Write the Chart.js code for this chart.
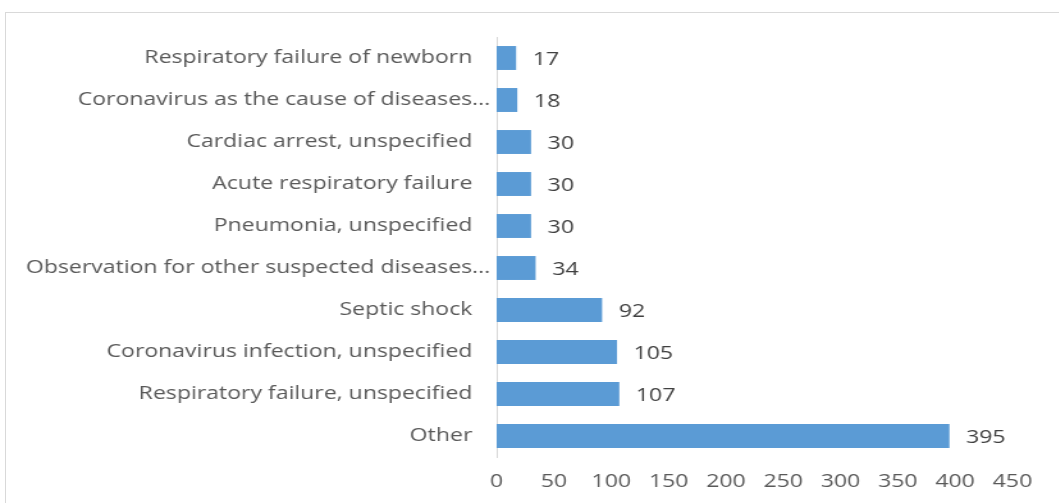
<!DOCTYPE html>
<html>
<head>
<meta charset="utf-8">
<script src="https://cdn.jsdelivr.net/npm/chart.js@4"></script>
<style>
  body { margin: 0; background: #fff; overflow: hidden; }
  #wrap { position: relative; width: 1059px; height: 503px; overflow: hidden; }
  #frame { position: absolute; left: 5px; top: 12px; width: 1100px; height: 600px; border: 1px solid #d9d9d9; }
  /* the source picture is stretched wide, so the chart is drawn narrow and scaled out */
  #stretch { position: absolute; left: 0; top: 0; transform: scaleX(1.28); transform-origin: 0 0; }
</style>
</head>
<body>
<div id="wrap">
  <div id="frame"></div>
  <div id="stretch">
    <canvas id="mycanvas" width="827" height="503"></canvas>
  </div>
</div>
<script>
var causes = [
    "Respiratory failure of newborn",
    "Coronavirus as the cause of diseases...",
    "Cardiac arrest, unspecified",
    "Acute respiratory failure",
    "Pneumonia, unspecified",
    "Observation for other suspected diseases...",
    "Septic shock",
    "Coronavirus infection, unspecified",
    "Respiratory failure, unspecified",
    "Other"
];
var deaths = [17, 18, 30, 30, 30, 34, 92, 105, 107, 395];
var xTicks = [0, 50, 100, 150, 200, 250, 300, 350, 400, 450];

var fontFamily = "'Open Sans', sans-serif";

// draws the value next to each bar
var valueLabels = {
    id: 'valueLabels',
    afterDatasetsDraw: function(chart) {
        var ctx = chart.ctx;
        var meta = chart.getDatasetMeta(0);
        ctx.save();
        ctx.fillStyle = "#404040";
        ctx.font = "18px " + fontFamily;
        ctx.textAlign = "left";
        ctx.textBaseline = "middle";
        meta.data.forEach(function(bar, i) {
            ctx.fillText(String(deaths[i]), bar.x + 13, bar.y + 2);
        });
        ctx.restore();
    }
};

// category labels, truncated ones sit closer to the axis like in Excel
var categoryLabels = {
    id: 'categoryLabels',
    afterDraw: function(chart) {
        var ctx = chart.ctx;
        var yScale = chart.scales.y;
        ctx.save();
        ctx.fillStyle = "#595959";
        ctx.font = "18px " + fontFamily;
        ctx.textAlign = "right";
        ctx.textBaseline = "middle";
        causes.forEach(function(label, i) {
            var gap = label.slice(-3) === "..." ? 5 : 19;
            ctx.fillText(label, yScale.right - gap, yScale.getPixelForValue(i));
        });
        ctx.restore();
    }
};

var ctx = document.getElementById("mycanvas");
var chart = new Chart(ctx, {
    type: 'bar',
    data: {
        labels: causes,
        datasets: [{
            data: deaths,
            backgroundColor: "#5B9BD5",
            borderWidth: 0,
            categoryPercentage: 1,
            barPercentage: 0.57
        }]
    },
    plugins: [valueLabels, categoryLabels],
    options: {
        indexAxis: 'y',
        responsive: false,
        animation: false,
        layout: { padding: { left: 0, right: 36, top: 37, bottom: 0 } },
        plugins: {
            legend: { display: false },
            tooltip: { enabled: false }
        },
        scales: {
            x: {
                min: 0,
                max: 450,
                afterBuildTicks: function(scale) {
                    scale.ticks = xTicks.map(function(v) { return { value: v }; });
                },
                afterFit: function(scale) { scale.height = 46; },
                grid: { display: false, drawTicks: false },
                border: { display: false },
                ticks: {
                    padding: 14,
                    color: "#595959",
                    font: { family: fontFamily, size: 18 }
                }
            },
            y: {
                afterFit: function(scale) { scale.width = 388; },
                grid: { display: false, drawTicks: false },
                border: { display: true, color: "#d9d9d9", width: 1 },
                ticks: { display: false }
            }
        }
    }
});
</script>
</body>
</html>
